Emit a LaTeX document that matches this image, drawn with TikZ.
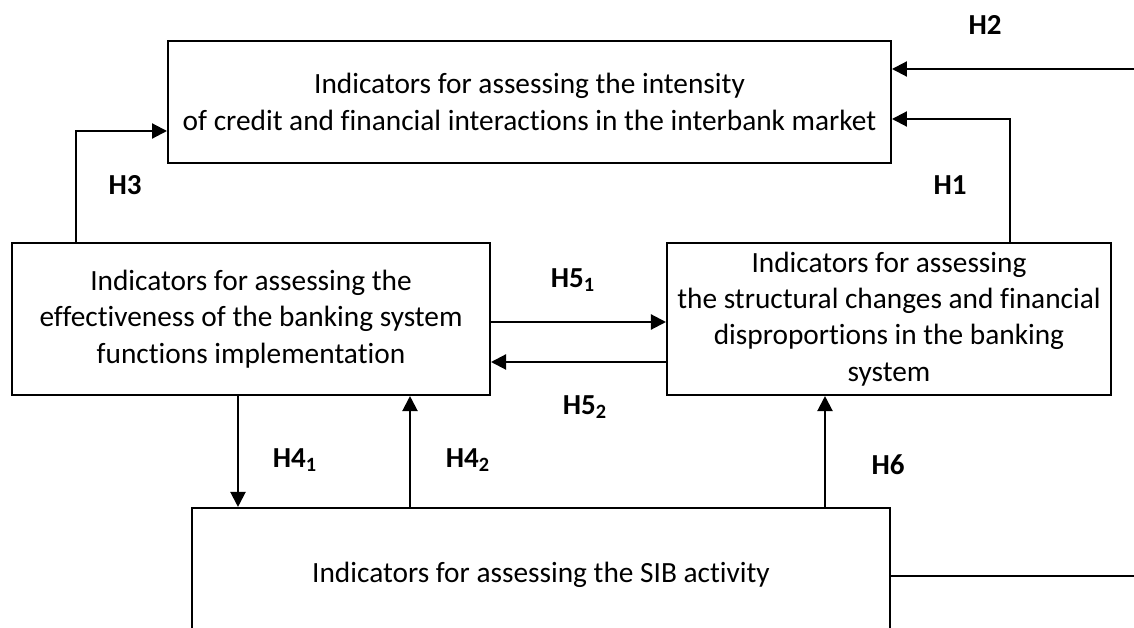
\documentclass[tikz,border=0pt]{standalone}
\usepackage{fontspec}
\setmainfont[Ligatures={NoCommon}]{Carlito}
\usetikzlibrary{arrows.meta}

\begin{document}
\begin{tikzpicture}[
			x=0.02cm, y=-0.02cm,
			line width=1.2pt,
			box/.style = {draw, align=center, inner sep=0pt,
				font=\fontsize{16.7}{20.6}\selectfont},
			hyp/.style = {font=\fontsize{16.5}{19}\selectfont\bfseries},
			arr/.style = {-{Triangle[length=0.3cm, width=0.3cm]}}
		]
		\clip (0,0) rectangle (1134,628);
		% Boxes.
		\node[box, minimum width=14.46cm, minimum height=2.44cm] (top) at (529.5,102)
			{Indicators for assessing the intensity\\of credit and financial interactions in the interbank market};
		\node[box, minimum width=9.56cm, minimum height=3.04cm] (left) at (251,319)
			{Indicators for assessing the\\effectiveness of the banking system\\functions implementation};
		\node[box, minimum width=8.88cm, minimum height=3.04cm] (right) at (889,319)
			{Indicators for assessing\\the structural changes and financial\\disproportions in the banking\\system};
		\node[box, minimum width=13.96cm, minimum height=2.68cm] (sib) at (541,575)
			{Indicators for assessing the SIB activity};
		% Bends and free ends.
		\coordinate (h2) at (1134,69);
		\coordinate (h1) at (1010,119);
		\coordinate (h3) at (76,131);
		\coordinate (h51) at (0,322);
		\coordinate (h52) at (0,362);
		\coordinate (h41) at (238,0);
		\coordinate (h42) at (410,0);
		\coordinate (h6) at (825,0);
		\coordinate (out) at (1134,576);
		
		\draw[arr] (h2) to (top.east |- h2);
		\draw[arr] (right.north -| h1) |- (top.east |- h1);
		\draw[arr] (left.north -| h3) |- (top.west |- h3);
		\draw[arr] (left.east |- h51) to (right.west |- h51);
		\draw[arr] (right.west |- h52) to (left.east |- h52);
		\draw[arr] (left.south -| h41) to (sib.north -| h41);
		\draw[arr] (sib.north -| h42) to (left.south -| h42);
		\draw[arr] (sib.north -| h6) to (right.south -| h6);
		\draw (sib.east |- out) to (out);
		% Labels.
		\node[hyp] (l2) at (985,25) {H2};
		\node[hyp] (l1) at (950,185) {H1};
		\node[hyp] (l3) at (125,185) {H3};
		\node[hyp] (l51) at (573,280) {H5\textsubscript{1}};
		\node[hyp] (l52) at (585,407) {H5\textsubscript{2}};
		\node[hyp] (l41) at (295,460) {H4\textsubscript{1}};
		\node[hyp] (l42) at (468,460) {H4\textsubscript{2}};
		\node[hyp] (l6) at (888,465) {H6};
	\end{tikzpicture}
\end{document}
